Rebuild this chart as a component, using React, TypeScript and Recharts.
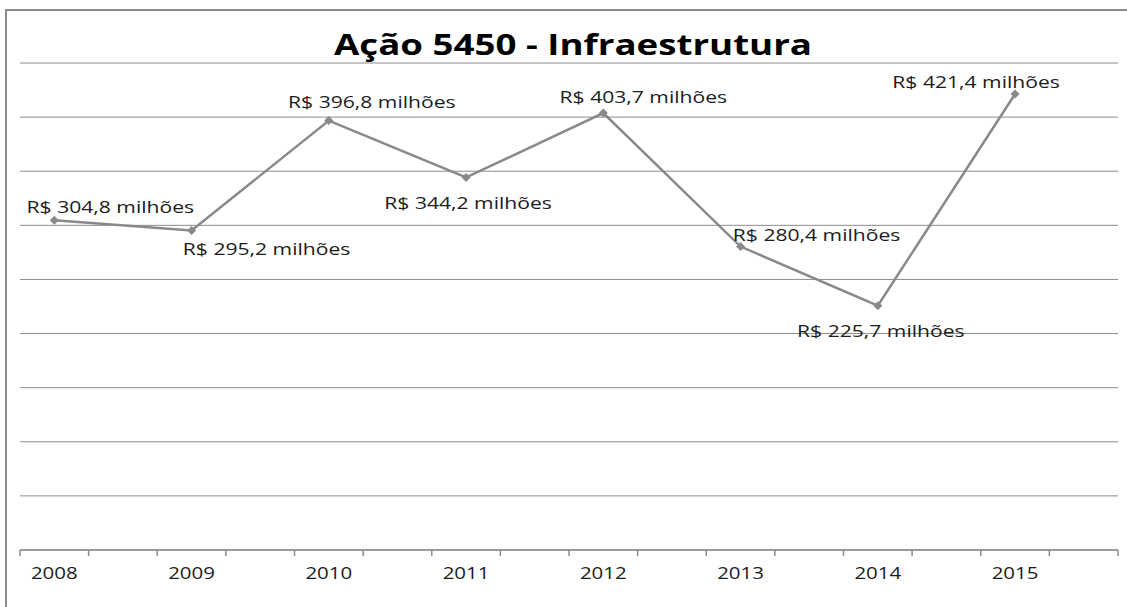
import React from "react";
import { LineChart, Line, XAxis, YAxis, CartesianGrid, LabelList } from "recharts";

const years = ["2008", "2009", "2010", "2011", "2012", "2013", "2014", "2015"];
const values = [304.8, 295.2, 396.8, 344.2, 403.7, 280.4, 225.7, 421.4];
const valueLabels = [
  "R$ 304,8 milhões",
  "R$ 295,2 milhões",
  "R$ 396,8 milhões",
  "R$ 344,2 milhões",
  "R$ 403,7 milhões",
  "R$ 280,4 milhões",
  "R$ 225,7 milhões",
  "R$ 421,4 milhões",
];
const yTicks = [0, 50, 100, 150, 200, 250, 300, 350, 400, 450];
const title = "Ação 5450 - Infraestrutura";

// label placement (px offsets from the point: centre x, baseline y)
const labelOffsets: [number, number][] = [
  [56, -7],
  [75, 24],
  [43, -13],
  [2, 32],
  [40, -10],
  [76, -6],
  [3, 31],
  [-39, -6],
];

const W = 1127;
const H = 607;
const M = { top: 63, right: 9, left: 20, bottom: 27 };
const X_AXIS_H = 30;
const PLOT_W = W - M.left - M.right;
const SLOTS = years.length * 2;
const HALF = PLOT_W / SLOTS / 2;
const STRETCH = 1.28;
const GRAY = "#8c8c8c";
const LINE = "#898989";
const TEXT = "#1c1c1c";
const FONT = "'Open Sans', sans-serif";

const data = years.map((y, i) => ({ pos: i * 2 + 0.5, year: y, value: values[i] }));
const xTicks = Array.from({ length: SLOTS + 1 }, (_, i) => i);

const Tick = (props: any) => {
  const { x, y, payload } = props;
  const v = payload.value;
  if (v % 2 !== 0 || v >= SLOTS) return null;
  const label = years[v / 2];
  return (
    <g transform={`translate(${x + HALF},${y + 21}) scale(${STRETCH},1)`}>
      <text x={0} y={0} textAnchor="middle" fontFamily={FONT} fontSize={16} fill={TEXT}>
        {label}
      </text>
    </g>
  );
};

const Diamond = (props: any) => {
  const { cx, cy } = props;
  if (cx == null || cy == null) return null;
  const s = 4.5;
  return (
    <polygon
      points={`${cx},${cy - s} ${cx + s},${cy} ${cx},${cy + s} ${cx - s},${cy}`}
      fill={LINE}
      stroke="none"
    />
  );
};

const ValueLabel = (props: any) => {
  const { x, y, index } = props;
  const [dx, dy] = labelOffsets[index];
  return (
    <g transform={`translate(${x + dx},${y + dy}) scale(${STRETCH},1)`}>
      <text x={0} y={0} textAnchor="middle" fontFamily={FONT} fontSize={16.5} fill={TEXT}>
        {valueLabels[index]}
      </text>
    </g>
  );
};

export default function App() {
  return (
    <div
      style={{
        position: "fixed",
        left: 0,
        top: 0,
        width: W,
        height: H,
        overflow: "hidden",
        background: "#fff",
        fontFamily: FONT,
      }}
    >
      <style>
        {"html,body{margin:0;overflow:hidden;scrollbar-width:none;}::-webkit-scrollbar{display:none;width:0;height:0;}"}
      </style>
      <div style={{ position: "absolute", left: 5, top: 9, width: W, height: 2, background: GRAY }} />
      <div style={{ position: "absolute", left: 5, top: 9, width: 2, height: H, background: GRAY }} />
      <div
        style={{
          position: "absolute",
          left: 573 - 300,
          top: 25,
          width: 600,
          textAlign: "center",
          fontFamily: FONT,
          fontWeight: 700,
          fontSize: 28,
          lineHeight: "38px",
          color: "#000",
          transform: `scaleX(1.31)`,
          transformOrigin: "center",
          whiteSpace: "nowrap",
        }}
      >
        {title}
      </div>
      <div style={{ position: "absolute", left: 0, top: 0 }}>
        <LineChart width={W} height={H} data={data} margin={M}>
          <CartesianGrid horizontal vertical={false} stroke={GRAY} strokeWidth={1} />
          <YAxis hide type="number" domain={[0, 450]} ticks={yTicks} />
          <XAxis
            type="number"
            dataKey="pos"
            domain={[0, SLOTS]}
            ticks={xTicks}
            interval={0}
            height={X_AXIS_H}
            tickSize={6}
            axisLine={{ stroke: GRAY, strokeWidth: 1.5 }}
            tickLine={{ stroke: GRAY, strokeWidth: 1.5 }}
            tick={<Tick />}
            allowDataOverflow
          />
          <Line
            type="linear"
            dataKey="value"
            stroke={LINE}
            strokeWidth={2.5}
            dot={<Diamond />}
            activeDot={false}
            isAnimationActive={false}
          >
            <LabelList dataKey="value" content={<ValueLabel />} />
          </Line>
        </LineChart>
      </div>
    </div>
  );
}
